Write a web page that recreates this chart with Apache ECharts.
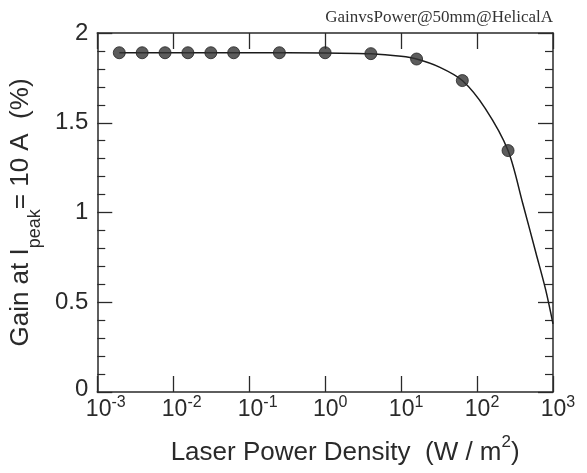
<!DOCTYPE html>
<html>
<head>
<meta charset="utf-8">
<script src="https://cdn.jsdelivr.net/npm/echarts@6/dist/echarts.min.js"></script>
<style>
  html, body { margin: 0; padding: 0; background: #fff; }
  #chart { width: 587px; height: 473px; }
</style>
</head>
<body>
<div id="chart"></div>
<script>
// Measured gain vs. laser power density (log x axis)
const pointX = [0.00195, 0.0039, 0.0078, 0.0156, 0.0313, 0.0625, 0.25, 1, 4, 16, 64, 256];
const pointY = [1.89, 1.89, 1.89, 1.89, 1.89, 1.89, 1.89, 1.89, 1.885, 1.855, 1.735, 1.345];

// Fitted curve through the measurements
const curveX = [0.00195, 0.01, 0.1, 1, 4, 10, 16, 32, 64, 128, 256, 400, 600, 800, 1000];
const curveY = [1.89, 1.89, 1.89, 1.889, 1.884, 1.87, 1.855, 1.81, 1.735, 1.58, 1.345, 1.05, 0.77, 0.57, 0.38];

// Axis ticks
const xTickExponents = [-3, -2, -1, 0, 1, 2, 3];
const yTicks = [0, 0.5, 1, 1.5, 2];

const pageTag = 'GainvsPower@50mm@HelicalA';

const ink = '#2a2a2a';
const font = 'Liberation Sans, Arial, Helvetica, sans-serif';

const chart = echarts.init(document.getElementById('chart'), null, { renderer: 'canvas' });

// "10" stays centred on the tick; the exponent hangs to its right,
// balanced by an empty spacer of the same width on the left
const xLabelRich = {
  pw: { width: 17, fontSize: 23, lineHeight: 26, verticalAlign: 'bottom' },
  pn: { width: 10, fontSize: 23, lineHeight: 26, verticalAlign: 'bottom' },
  b: { fontSize: 23, fontFamily: font, color: ink, lineHeight: 26, verticalAlign: 'bottom' },
  s: { fontSize: 16, fontFamily: font, color: ink, verticalAlign: 'top', lineHeight: 14 }
};

function xLabel(v) {
  const e = Math.round(Math.log10(v));
  if (xTickExponents.indexOf(e) < 0) return '';
  return (e < 0 ? '{pw|}' : '{pn|}') + '{b|10}{s|' + e + '}';
}

function yLabel(v) {
  return v === 0 ? '{z|0}' : String(v);
}

const xBase = {
  type: 'log',
  logBase: 10,
  min: Math.pow(10, xTickExponents[0]),
  max: Math.pow(10, xTickExponents[xTickExponents.length - 1]),
  splitNumber: xTickExponents.length - 1,
  axisLine: { show: true, onZero: false, lineStyle: { color: ink, width: 1.5 } },
  axisTick: { show: true, inside: true, length: 16, lineStyle: { color: ink, width: 1.3 } },
  minorTick: { show: false },
  splitLine: { show: false },
  minorSplitLine: { show: false }
};

const yBase = {
  type: 'value',
  min: yTicks[0],
  max: yTicks[yTicks.length - 1],
  interval: yTicks[1] - yTicks[0],
  axisLine: { show: true, onZero: false, lineStyle: { color: ink, width: 1.5 } },
  axisTick: { show: true, inside: true, length: 15, lineStyle: { color: ink, width: 1.3 } },
  minorTick: { show: true, splitNumber: 5, length: 8, lineStyle: { color: ink, width: 1.2 } },
  splitLine: { show: false }
};

chart.setOption({
  animation: false,
  backgroundColor: '#fff',
  grid: { left: 97, right: 34, top: 33, bottom: 81, containLabel: false },
  xAxis: [
    Object.assign({}, xBase, {
      position: 'bottom',
      axisLabel: { show: true, formatter: xLabel, rich: xLabelRich, margin: 3 },
      name: '{t|Laser Power Density  (W / m}{u|2}{t|)}',
      nameLocation: 'middle',
      nameGap: 42,
      nameTextStyle: {
        padding: [0, 0, 0, 40],
        rich: {
          t: { fontSize: 26, fontFamily: font, color: ink, lineHeight: 32, verticalAlign: 'bottom' },
          u: { fontSize: 17, fontFamily: font, color: ink, verticalAlign: 'top', lineHeight: 16 }
        }
      }
    }),
    Object.assign({}, xBase, {
      position: 'top',
      axisLabel: { show: false }
    })
  ],
  yAxis: [
    Object.assign({}, yBase, {
      position: 'left',
      axisLabel: {
        show: true, fontSize: 24, fontFamily: font, color: ink, margin: 9,
        formatter: yLabel,
        rich: { z: { fontSize: 24, fontFamily: font, color: ink, padding: [0, 0, 6, 0] } }
      },
      name: '{t|Gain at I}{s|peak}{t|= 10 A  (%)}',
      nameLocation: 'middle',
      nameRotate: 90,
      nameGap: 50,
      nameTextStyle: {
        rich: {
          t: { fontSize: 26, fontFamily: font, color: ink, lineHeight: 36, verticalAlign: 'top' },
          s: { fontSize: 18, fontFamily: font, color: ink, verticalAlign: 'bottom', lineHeight: 18 }
        }
      }
    }),
    Object.assign({}, yBase, {
      position: 'right',
      axisLabel: { show: false }
    })
  ],
  graphic: [
    {
      type: 'text',
      right: 34,
      top: 9,
      style: {
        text: pageTag,
        font: '17px "Liberation Serif", "DejaVu Serif", serif',
        fill: '#333'
      }
    }
  ],
  series: [
    {
      name: 'fit',
      type: 'line',
      xAxisIndex: 0,
      yAxisIndex: 0,
      data: curveX.map((x, i) => [x, curveY[i]]),
      smooth: 0.3,
      showSymbol: false,
      lineStyle: { color: '#1a1a1a', width: 1.5 },
      z: 2
    },
    {
      name: 'measured',
      type: 'scatter',
      xAxisIndex: 0,
      yAxisIndex: 0,
      data: pointX.map((x, i) => [x, pointY[i]]),
      symbol: 'circle',
      symbolSize: 12,
      itemStyle: { color: '#333', borderColor: '#222', borderWidth: 1 },
      z: 3
    }
  ]
});
</script>
</body>
</html>
